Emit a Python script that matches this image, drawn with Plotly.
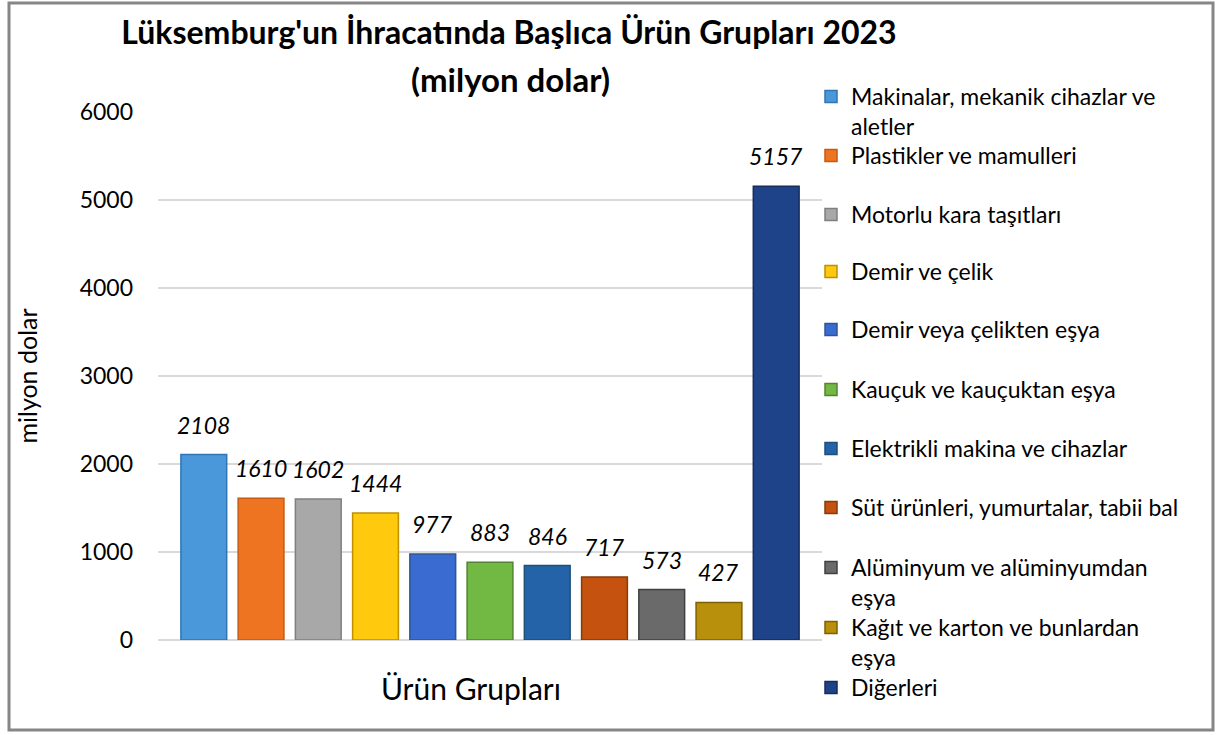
import plotly.graph_objects as go

categories = [
    "Makinalar, mekanik cihazlar ve<br>aletler",
    "Plastikler ve mamulleri",
    "Motorlu kara taşıtları",
    "Demir ve çelik",
    "Demir veya çelikten eşya",
    "Kauçuk ve kauçuktan eşya",
    "Elektrikli makina ve cihazlar",
    "Süt ürünleri, yumurtalar, tabii bal",
    "Alüminyum ve alüminyumdan<br>eşya",
    "Kağıt ve karton ve bunlardan<br>eşya",
    "Diğerleri",
]
values = [2108, 1610, 1602, 1444, 977, 883, 846, 717, 573, 427, 5157]
colors = ["#4A98DA", "#EE7422", "#A8A8A8", "#FFC90E", "#3A6BD0", "#72B944",
          "#2563A8", "#C5520E", "#6A6A6A", "#B8900C", "#1E4389"]
edges = ["#2E75B6", "#C55A11", "#7F7F7F", "#BF9000", "#2F5597", "#548235",
         "#1F4E79", "#843C0C", "#404040", "#7F6000", "#172C5A"]
legend_first_line_y = [97, 156, 215, 272, 330, 390, 449, 508, 568, 628, 688]

W, H = 1219, 735
PL, PR, PT, PB = 158, 822, 112, 640
FONT = "Lato"

fx = lambda px: (px - PL) / (PR - PL)
fy = lambda py: (PB - py) / (PB - PT)

fig = go.Figure()
for i, (c, v) in enumerate(zip(categories, values)):
    lg = "legend" if i == 0 else f"legend{i+1}"
    fig.add_trace(go.Bar(
        x=[i], y=[v], name=c, width=0.8,
        marker=dict(color=colors[i], line=dict(color=edges[i], width=1.5)),
        legend=lg, showlegend=True,
    ))
    fig.add_annotation(x=i, y=v, text=f"<i>{v}</i>", showarrow=False,
                       yanchor="bottom", xanchor="center", yshift=14,
                       font=dict(family=FONT, size=23, color="#000000"))

legends = {}
for i, yy in enumerate(legend_first_line_y):
    key = "legend" if i == 0 else f"legend{i+1}"
    legends[key] = dict(
        x=fx(811), xanchor="left", xref="paper",
        y=fy(yy - 22), yanchor="top", yref="paper",
        bgcolor="rgba(0,0,0,0)", borderwidth=0, itemwidth=30,
        valign="top",
        font=dict(family=FONT, size=23, color="#000000"),
    )

fig.add_shape(type="rect", xref="paper", yref="paper",
              x0=fx(9), x1=fx(1213), y0=fy(730), y1=fy(3),
              line=dict(color="#868686", width=3), fillcolor="rgba(0,0,0,0)",
              layer="below")

fig.add_annotation(xref="paper", yref="paper", x=fx(510), y=fy(79),
                   xanchor="center", yanchor="middle",
                   text="<b>(milyon dolar)</b>", showarrow=False,
                   font=dict(family=FONT, size=33, color="#000000"))

fig.add_annotation(xref="paper", yref="paper", x=fx(471), y=fy(688),
                   xanchor="center", yanchor="middle",
                   text="Ürün Grupları", showarrow=False,
                   font=dict(family=FONT, size=30, color="#000000"))

fig.update_layout(
    width=W, height=H, autosize=False,
    margin=dict(l=PL, r=W - PR, t=PT, b=H - PB, autoexpand=False),
    paper_bgcolor="white", plot_bgcolor="white",
    barmode="overlay",
    title=dict(text="<b>Lüksemburg'un İhracatında Başlıca Ürün Grupları 2023</b>",
               x=509 / W, xanchor="center", xref="container",
               y=1 - 33 / H, yanchor="middle", yref="container",
               font=dict(family=FONT, size=32, color="#000000")),
    xaxis=dict(type="linear", range=[-0.8, 10.8], showticklabels=False,
               showgrid=False, zeroline=False, showline=False, ticks=""),
    yaxis=dict(range=[0, 6000], dtick=1000, showgrid=True, gridcolor="#D9D9D9",
               gridwidth=1.5, zeroline=True, zerolinecolor="#D9D9D9",
               zerolinewidth=1.5, showline=False, ticks="",
               ticklabelstandoff=24,
               tickfont=dict(family=FONT, size=23, color="#000000"),
               title=dict(text="milyon dolar", standoff=34,
                          font=dict(family=FONT, size=25, color="#000000"))),
    **legends,
)

fig.write_html("out.html", config={"displayModeBar": False},
               post_script="document.body.style.margin='0';")
